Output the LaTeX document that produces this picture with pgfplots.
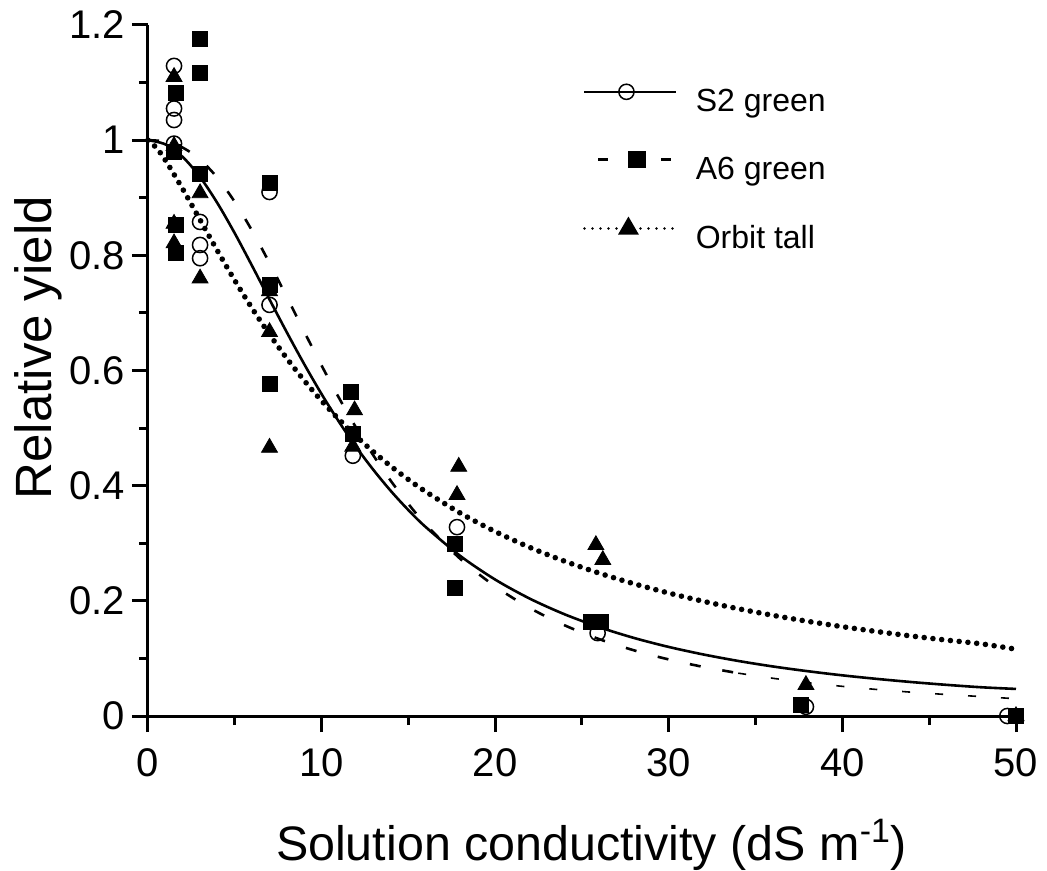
\documentclass[border=0pt]{standalone}
\usepackage{fontspec}
\setmainfont{Liberation Sans}
\usepackage{pgfplots}
\pgfplotsset{compat=1.18}
\begin{document}
\begin{tikzpicture}
\useasboundingbox (-74bp,-77.5bp) rectangle (449.5bp,358bp);
\begin{axis}[
  at={(0,0)}, anchor=south west,
  scale only axis, width=434bp, height=345.5bp,
  xmin=0, xmax=50, ymin=0, ymax=1.2,
  axis lines=left, axis line style={-, line width=1.5bp},
  tick style={line width=1.5bp, black},
  tick align=outside,
  major tick length=8bp, minor tick length=4.5bp,
  xtick={0,10,20,30,40,50}, minor xtick={5,15,25,35,45},
  ytick={0,0.2,0.4,0.6,0.8,1,1.2}, minor ytick={0.1,0.3,0.5,0.7,0.9,1.1},
  tick label style={font=\fontsize{20bp}{24bp}\selectfont},
  xticklabel style={yshift=-5bp},
  /pgf/number format/assume math mode=true,
  xlabel={Solution conductivity (dS m\textsuperscript{-1})},
  ylabel={Relative yield},
  xlabel style={font=\fontsize{24.2bp}{28bp}\selectfont, at={(axis description cs:0.511,-0.2098)}, anchor=base},
  ylabel style={font=\fontsize{25.5bp}{30bp}\selectfont, at={(axis description cs:-0.1106,0.533)}, anchor=base},
  clip=false,
  legend cell align=left,
  legend style={draw=none, fill=none, at={(axis description cs:0.5012,0.9143)}, anchor=north west,
    inner sep=0pt, outer sep=0pt, row sep=16bp, column sep=9bp,
    font=\fontsize{16bp}{19bp}\selectfont,
    nodes={inner sep=0pt, text height=12bp, text depth=4bp}},
]
% legend images
\addlegendimage{black, line width=1.3bp, mark=o, mark size=3.8bp, mark options={solid, fill=white, line width=0.75bp},
  legend image code/.code={\draw[mark repeat=2, mark phase=2] plot coordinates {(0bp,6bp)(21bp,6bp)(46bp,6bp)};}}
\addlegendentry{S2 green}
\addlegendimage{black, line width=1.3bp, dash pattern=on 5bp off 26.5bp, dash phase=24.5bp, mark=square*, mark size=3.75bp, mark options={solid},
  legend image code/.code={\draw[mark repeat=2, mark phase=2] plot coordinates {(0bp,6bp)(26.25bp,6bp)(46bp,6bp)};}}
\addlegendentry{A6 green}
\addlegendimage{black, line width=1.4bp, line cap=round, dash pattern=on 0bp off 4bp, mark=triangle*, mark size=4.6bp, mark options={solid},
  legend image code/.code={\draw[mark repeat=2, mark phase=2] plot coordinates {(0bp,6bp)(22bp,6bp)(46bp,6bp)};}}
\addlegendentry{Orbit tall}

% fitted curves
\addplot[forget plot, black, line width=1.3bp, smooth] coordinates {
(0,1) (1,0.9927) (2,0.9708) (3,0.9359) (4,0.8906) (5,0.8382) (6,0.7815) (7,0.7234)
(8,0.6661) (9,0.6110) (10,0.5590) (11,0.5110) (12,0.4668) (13,0.4268) (14,0.3904)
(15,0.3576) (16,0.3281) (18,0.2777) (20,0.2369) (22,0.2037) (24,0.1766) (26,0.1542)
(28,0.1355) (30,0.1199) (32,0.1068) (34,0.0956) (36,0.0860) (38,0.0778) (40,0.0706)
(42,0.0644) (44,0.0589) (46,0.0541) (48,0.0499) (50,0.0470)};
\addplot[forget plot, black, line width=1.3bp, dash pattern=on 5.5bp off 11bp, smooth] coordinates {
(0,1) (1,0.9976) (2,0.9871) (3,0.9663) (4,0.9346) (5,0.8927) (6,0.8425) (7,0.7866)
(8,0.7274) (9,0.6673) (10,0.6086) (11,0.5525) (12,0.5) (13,0.4517) (14,0.4078)
(15,0.3682) (16,0.3327) (18,0.2726) (20,0.2251) (22,0.1874) (24,0.1575) (26,0.1334)
(28,0.1140) (30,0.0982) (32,0.0852) (34,0.0744)};
\addplot[forget plot, black, line width=0.8bp, dash pattern=on 4bp off 12.5bp, smooth] coordinates {
(34,0.0744) (36,0.0655) (38,0.0579) (40,0.0515) (42,0.0460) (44,0.0413) (46,0.0373) (48,0.0337) (50,0.0300)};
\addplot[forget plot, black, line width=2.8bp, line cap=round, dash pattern=on 0bp off 4.4bp, smooth] coordinates {
(0,1) (0.5,0.9861) (1,0.9652) (2,0.9152) (3,0.8615) (4,0.8079) (5,0.7563) (6,0.7078)
(7,0.6627) (8,0.6209) (9,0.5825) (10,0.5473) (11,0.5151) (12,0.4855) (13,0.4584)
(14,0.4335) (15,0.4106) (16,0.3896) (18,0.3522) (20,0.3203) (22,0.2927) (24,0.2688)
(26,0.2480) (28,0.2296) (30,0.2135) (32,0.1991) (34,0.1863) (36,0.1748) (38,0.1644)
(40,0.1551) (42,0.1466) (44,0.1388) (46,0.1318) (48,0.1253) (50,0.1160)};

% S2 green (open circles)
\addplot[forget plot, only marks, black, mark=o, mark size=3.8bp, mark options={fill=white, line width=0.75bp}] coordinates {
(1.5,1.129) (1.5,1.055) (1.5,1.035) (1.5,0.994) (3,0.858) (3,0.818) (3,0.795)
(7,0.910) (7,0.714) (11.8,0.452) (17.8,0.328) (25.9,0.144) (37.9,0.016) (49.5,0)};
% Orbit tall (triangles)
\addplot[forget plot, only marks, black, mark=triangle*, mark size=4.6bp] coordinates {
(1.5,1.110) (1.5,0.990) (3,0.908) (1.5,0.855) (1.5,0.821) (3,0.760) (7,0.738) (7,0.667)
(7,0.466) (11.9,0.531) (11.8,0.468) (17.9,0.433) (17.8,0.384) (25.8,0.297) (26.2,0.271)
(37.9,0.054) (50,0)};
% A6 green (squares)
\addplot[forget plot, only marks, black, mark=square*, mark size=3.75bp] coordinates {
(3,1.175) (3,1.116) (1.6,1.082) (1.5,0.980) (3,0.941) (1.6,0.852) (1.6,0.804)
(7,0.926) (7,0.748) (7,0.576) (11.7,0.563) (11.8,0.490) (17.7,0.299) (17.7,0.222)
(25.5,0.164) (26.1,0.164) (37.6,0.019) (50,0)};
\end{axis}
\end{tikzpicture}
\end{document}
